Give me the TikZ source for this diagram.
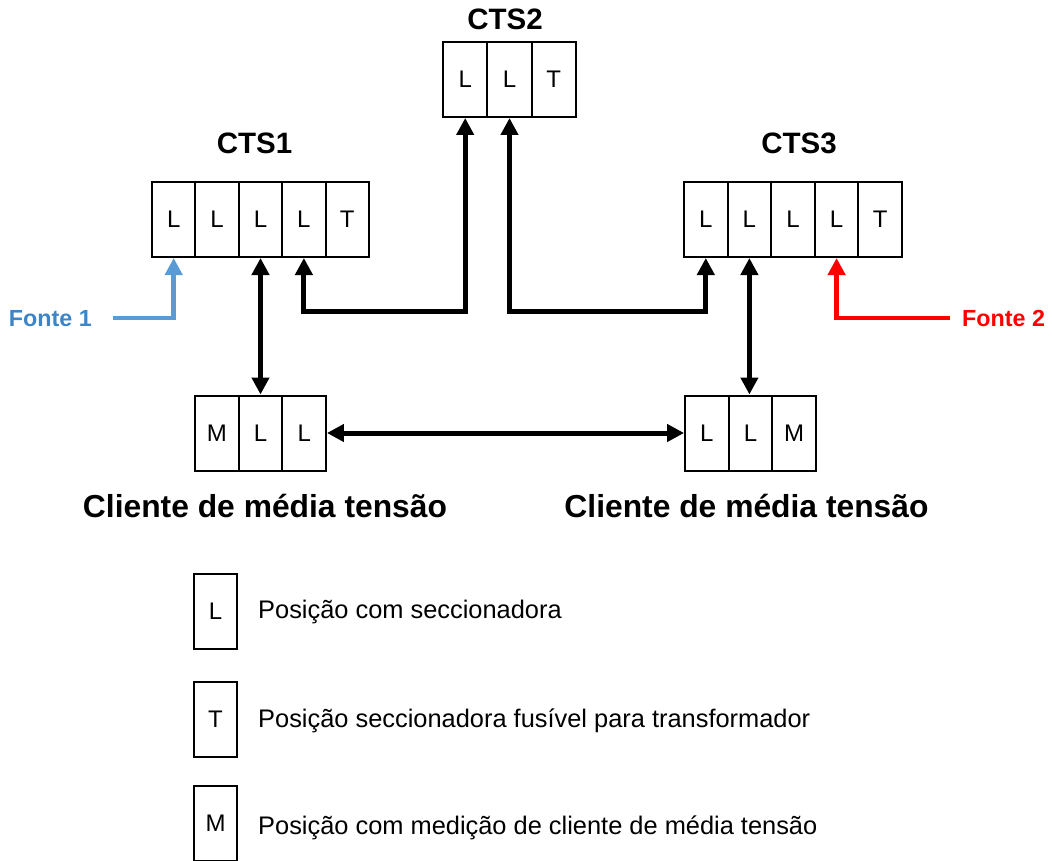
\documentclass[tikz,border=0pt]{standalone}
\usepackage{fontspec}
\setmainfont{Liberation Sans}
\usetikzlibrary{arrows.meta}
\definecolor{fblue}{HTML}{5B9BD5}
\definecolor{fbluetext}{HTML}{3D85C6}
\definecolor{fred}{HTML}{FF0000}
\begin{document}
\begin{tikzpicture}[x=1pt,y=-1pt,
  cell/.style={draw, line width=2pt, minimum width=43.5pt, minimum height=75pt, inner sep=0pt, font=\fontsize{24}{28}\selectfont},
  ttl/.style={font=\bfseries\fontsize{29.5}{34}\selectfont, anchor=base, inner sep=0pt},
  cli/.style={font=\bfseries\fontsize{31.8}{36}\selectfont, anchor=base, inner sep=0pt},
  leg/.style={font=\fontsize{25.4}{30}\selectfont, anchor=base west, inner sep=0pt},
  fonte/.style={font=\bfseries\fontsize{23.3}{28}\selectfont, inner sep=0pt},
  link/.style={line width=5pt, {Triangle[width=17pt,length=17pt]}-{Triangle[width=17pt,length=17pt]}},
  feed/.style={line width=4.5pt, -{Triangle[width=17pt,length=17pt]}}
]
\useasboundingbox (0,0) rectangle (1052,861);
% CTS1
\node[cell] (a1) at (173.7,219.5) {L};
\node[cell] (a2) at (217.1,219.5) {L};
\node[cell] (a3) at (260.5,219.5) {L};
\node[cell] (a4) at (303.9,219.5) {L};
\node[cell] (a5) at (347.3,219.5) {T};
% CTS2
\node[cell, minimum width=44.3pt] (b1) at (465.2,79.5) {L};
\node[cell, minimum width=44.3pt] (b2) at (509.5,79.5) {L};
\node[cell, minimum width=44.3pt] (b3) at (553.8,79.5) {T};
% CTS3
\node[cell] (c1) at (705.8,219.5) {L};
\node[cell] (c2) at (749.4,219.5) {L};
\node[cell] (c3) at (793.0,219.5) {L};
\node[cell] (c4) at (836.6,219.5) {L};
\node[cell] (c5) at (880.2,219.5) {T};
% clients
\node[cell] (l1) at (216.8,433) {M};
\node[cell] (l2) at (260.5,433) {L};
\node[cell] (l3) at (304.2,433) {L};
\node[cell] (r1) at (706.8,433) {L};
\node[cell] (r2) at (750.5,433) {L};
\node[cell] (r3) at (794.2,433) {M};
% titles
\node[ttl] (t1) at (254.5,154) {CTS1};
\node[ttl] (t2) at (505,30) {CTS2};
\node[ttl] (t3) at (799,154) {CTS3};
\node[cli] (cl) at (265,517) {Cliente de média tensão};
\node[cli] (cr) at (746.5,517) {Cliente de média tensão};
% sources
\node[fonte, text=fbluetext, anchor=base east] (f1) at (92,326) {Fonte 1};
\node[fonte, text=fred, anchor=base west] (f2) at (962,326) {Fonte 2};
\coordinate (f1s) at (113,318);
\coordinate (f2s) at (950,318);
\coordinate (h) at (0,311);
% connectors
\draw[feed, fblue] (f1s) -| (a1.south);
\draw[feed, fred] (f2s) -| (c4.south);
\draw[link] (a3.south) -- (a3.south |- l2.north);
\draw[link] (c2.south) -- (c2.south |- r2.north);
\draw[link] (l3.east) -- (r1.west);
\draw[link] (a4.south) -- (a4.south |- h) -| (b1.south);
\draw[link] (b2.south) -- (b2.south |- h) -| (c1.south);
% legend
\node[cell, minimum width=43pt] (kL) at (215.5,611.5) {L};
\node[cell, minimum width=43pt] (kT) at (215.5,719) {T};
\node[cell, minimum width=43pt] (kM) at (215.5,823) {M};
\node[leg] (dL) at (258,618) {Posição com seccionadora};
\node[leg] (dT) at (258,727) {Posição seccionadora fusível para transformador};
\node[leg] (dM) at (258,834) {Posição com medição de cliente de média tensão};
\end{tikzpicture}
\end{document}
